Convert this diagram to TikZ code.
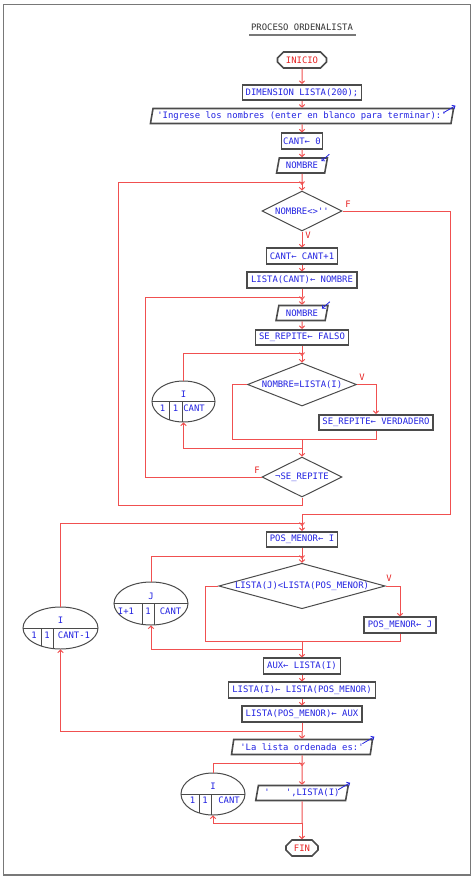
\documentclass[tikz,border=0pt]{standalone}
\usepackage{fontspec}
\newfontfamily\pf[Ligatures=TeXOff]{DejaVu Sans Mono}
\usetikzlibrary{shapes.geometric,shapes.misc,arrows.meta,calc}
\definecolor{flowred}{RGB}{240,80,80}
\definecolor{txtblue}{RGB}{35,35,225}
\definecolor{boxgray}{RGB}{75,75,75}
\definecolor{termred}{RGB}{230,35,35}
\definecolor{framegray}{RGB}{120,120,120}
\tikzset{
  ff/.style={font=\pf\fontsize{8.9}{10}\selectfont},
  base/.style={ff, text=txtblue, inner sep=0pt, draw=boxgray, line width=1.6pt},
  proc/.style={base, rectangle, minimum height=15.5},
  io/.style={base, trapezium, trapezium left angle=74, trapezium right angle=106,
     trapezium stretches=true, minimum height=15},
  dec/.style={base, diamond, line width=1pt},
  term/.style={base, chamfered rectangle, chamfered rectangle xsep=3pt,
     chamfered rectangle ysep=3pt, text=termred, minimum height=16},
  loopell/.style={ellipse, draw=boxgray, line width=1pt, inner sep=0pt},
  ellline/.style={draw=boxgray, line width=1pt},
  eltxt/.style={ff, text=txtblue, inner sep=0pt},
  lab/.style={ff, text=termred, inner sep=0pt},
  flow/.style={draw=flowred, line width=1pt},
  arr/.style={flow, -{Straight Barb[length=2.5pt,width=5.5pt]}},
  iomark/.style={draw=txtblue, line width=0.8pt, -{Straight Barb[length=2.5pt,width=4.5pt]}},
  frame/.style={draw=framegray, line width=1.5pt},
}
\newcommand\junc[1]{\draw[flow, line width=0.9pt] ($(#1)+(-2.5,-0.5)$) -- ($(#1)+(0,2.5)$) -- ($(#1)+(2.5,-0.5)$);}
\newcommand\outmark[1]{\draw[iomark] ($(#1.top right corner)+(-11,5)$) -- ($(#1.top right corner)+(1,-2)$);}
\newcommand\inmark[1]{\draw[iomark] ($(#1.top right corner)+(1,-3)$) -- ($(#1.top right corner)+(-7,4)$);}
\begin{document}
\begin{tikzpicture}[x=1pt,y=-1pt]
\useasboundingbox (0,0) rectangle (474,879);
\draw[frame] (3.5,4.5) rectangle (470.5,875);
% title
\node[ff, text=black!80, inner sep=0pt] (title) at (302,27) {PROCESO ORDENALISTA};
\draw[draw=framegray, line width=2pt] (249,35) -- (356,35);

% main nodes
\node[term, minimum width=49] (inicio) at (302,60) {INICIO};
\node[proc, minimum width=119] (dim) at (302,92.5) {DIMENSION LISTA(200);};
\node[io, minimum width=304] (ingrese) at (302,116) {'Ingrese los nombres (enter en blanco para terminar):'};
\node[proc, minimum width=41] (cant0) at (302,141) {CANT← 0};
\node[io, minimum width=51] (nombre1) at (302,165.5) {NOMBRE};
\node[dec, minimum width=80, minimum height=40, aspect=2] (d1) at (302,211) {NOMBRE<>'{}'};
\node[proc, minimum width=71] (cant1) at (302,256) {CANT← CANT+1};
\node[proc, minimum width=110] (lista) at (302,280) {LISTA(CANT)← NOMBRE};
\node[io, minimum width=52] (nombre2) at (302,313) {NOMBRE};
\node[proc, minimum width=93] (serep) at (302,337.5) {SE\_REPITE← FALSO};
\node[dec, minimum width=109, minimum height=43, aspect=2.5] (d2) at (302,384.5) {NOMBRE=LISTA(I)};
\node[proc, minimum width=114] (verd) at (376,422.5) {SE\_REPITE← VERDADERO};
\node[dec, minimum width=80, minimum height=40, aspect=2] (d3) at (302,477) {¬SE\_REPITE};
\node[proc, minimum width=71] (posI) at (302,539.5) {POS\_MENOR← I};
\node[dec, minimum width=161, minimum height=44, aspect=3.66] (d4) at (302,586) {LISTA(J)<LISTA(POS\_MENOR)};
\node[proc, minimum width=72] (posJ) at (400,625) {POS\_MENOR← J};
\node[proc, minimum width=77] (aux) at (302,666) {AUX← LISTA(I)};
\node[proc, minimum width=147] (swap1) at (302,690) {LISTA(I)← LISTA(POS\_MENOR)};
\node[proc, minimum width=120] (swap2) at (302,714) {LISTA(POS\_MENOR)← AUX};
\node[io, minimum width=141] (outLa) at (302,747) {'La lista ordenada es:'};
\node[io, minimum width=93] (outL) at (302,793) {'\ \ \ ',LISTA(I)};
\node[term, minimum width=32] (fin) at (302,848) {FIN};

\outmark{ingrese}
\inmark{nombre1}
\inmark{nombre2}
\outmark{outLa}
\outmark{outL}

% labels
\node[lab] (lf1) at (348,204) {F};
\node[lab] (lv1) at (308,235) {V};
\node[lab] (lv2) at (362,377) {V};
\node[lab] (lf3) at (257,470) {F};
\node[lab] (lv4) at (389,578) {V};

% loop ellipses
\node[loopell, minimum width=63, minimum height=41] (L1) at (183.5,401.5) {};
\begin{scope}
\clip (L1.center) ellipse (31.5 and 20.5);
\draw[ellline] (L1.west) -- (L1.east);
\draw[ellline] (169,401.5) -- (169,430);
\draw[ellline] (182,401.5) -- (182,430);
\end{scope}
\node[eltxt] (L1v) at (183.5,394.5) {I};
\node[eltxt] (L1a) at (162.5,408) {1};
\node[eltxt] (L1b) at (175.5,408) {1};
\node[eltxt] (L1c) at (194,408) {CANT};

\node[loopell, minimum width=74, minimum height=43] (L2) at (151,603.5) {};
\begin{scope}
\clip (L2.center) ellipse (37 and 21.5);
\draw[ellline] (L2.west) -- (L2.east);
\draw[ellline] (142,603.5) -- (142,630);
\draw[ellline] (154,603.5) -- (154,630);
\end{scope}
\node[eltxt] (L2v) at (151,596.5) {J};
\node[eltxt] (L2a) at (126,611) {I+1};
\node[eltxt] (L2b) at (148,611) {1};
\node[eltxt] (L2c) at (170.5,611) {CANT};

\node[loopell, minimum width=75, minimum height=42] (L3) at (60.5,628) {};
\begin{scope}
\clip (L3.center) ellipse (37.5 and 21);
\draw[ellline] (L3.west) -- (L3.east);
\draw[ellline] (41,628) -- (41,655);
\draw[ellline] (53,628) -- (53,655);
\end{scope}
\node[eltxt] (L3v) at (60.5,620.5) {I};
\node[eltxt] (L3a) at (34,635) {1};
\node[eltxt] (L3b) at (47,635) {1};
\node[eltxt] (L3c) at (74,635) {CANT-1};

\node[loopell, minimum width=64, minimum height=42] (L4) at (213,794) {};
\begin{scope}
\clip (L4.center) ellipse (32 and 21);
\draw[ellline] (L4.west) -- (L4.east);
\draw[ellline] (199,794) -- (199,820);
\draw[ellline] (211,794) -- (211,820);
\end{scope}
\node[eltxt] (L4v) at (213,786.5) {I};
\node[eltxt] (L4a) at (192.5,800.5) {1};
\node[eltxt] (L4b) at (205,800.5) {1};
\node[eltxt] (L4c) at (229,800.5) {CANT};

% coordinates
\coordinate (j1) at (302,182);
\coordinate (j2) at (302,297);
\coordinate (j3) at (302,353);
\coordinate (m2) at (302,439);
\coordinate (m2L) at (232,439);
\coordinate (j5) at (302,448);
\coordinate (oL) at (118,505);
\coordinate (iL) at (145,477);
\coordinate (fR) at (450,514);
\coordinate (j6) at (302,514);
\coordinate (j7) at (302,523);
\coordinate (j8) at (302,556);
\coordinate (m4) at (302,641);
\coordinate (m4L) at (205,641);
\coordinate (j9) at (302,649);
\coordinate (j10) at (302,731);
\coordinate (j11) at (302,763);
\coordinate (j12) at (302,823);

% connectors
\draw[arr] (inicio) -- (dim);
\draw[arr] (dim) -- (ingrese);
\draw[arr] (ingrese) -- (cant0);
\draw[arr] (cant0) -- (nombre1);
\draw[flow] (nombre1.south) -- (j1);
\draw[arr] (j1) -- (d1.north);
\draw[arr] (d1.south) -- (cant1.north);
\draw[arr] (cant1) -- (lista);
\draw[flow] (lista.south) -- (j2);
\draw[arr] (j2) -- (nombre2.north);
\draw[arr] (nombre2) -- (serep);
\draw[flow] (serep.south) -- (j3);
\draw[arr] (j3) -- (d2.north);
\draw[arr] (d2.east) -| (verd.north);
\draw[flow] (d2.west) -| (m2L) -- (m2);
\draw[flow] (verd.south) |- (m2);
\draw[flow] (m2) -- (j5);
\draw[arr] (j5) -- (d3.north);
\draw[arr] (j5) -| (L1.south);
\draw[flow] (L1.north) |- (j3);
\draw[flow] (d3.west) -- (iL) |- (j2);
\draw[flow] (d3.south) |- (oL) |- (j1);
\draw[flow] (d1.east) -| (fR) -- (j6);
\draw[flow] (j6) -- (j7);
\draw[arr] (j7) -- (posI.north);
\draw[flow] (L3.north) |- (j7);
\draw[flow] (posI.south) -- (j8);
\draw[arr] (j8) -- (d4.north);
\draw[flow] (L2.north) |- (j8);
\draw[arr] (d4.east) -| (posJ.north);
\draw[flow] (d4.west) -| (m4L) -- (m4);
\draw[flow] (posJ.south) |- (m4);
\draw[flow] (m4) -- (j9);
\draw[arr] (j9) -- (aux.north);
\draw[arr] (j9) -| (L2.south);
\draw[arr] (aux) -- (swap1);
\draw[arr] (swap1) -- (swap2);
\draw[flow] (swap2.south) -- (j10);
\draw[arr] (j10) -- (outLa.north);
\draw[arr] (j10) -| (L3.south);
\draw[flow] (outLa.south) -- (j11);
\draw[arr] (j11) -- (outL.north);
\draw[flow] (L4.north) |- (j11);
\draw[flow] (outL.south) -- (j12);
\draw[arr] (j12) -- (fin.north);
\draw[arr] (j12) -| (L4.south);

\junc{j1}
\junc{j2}
\junc{j3}
\junc{j7}
\junc{j8}
\junc{j11}
\end{tikzpicture}
\end{document}
